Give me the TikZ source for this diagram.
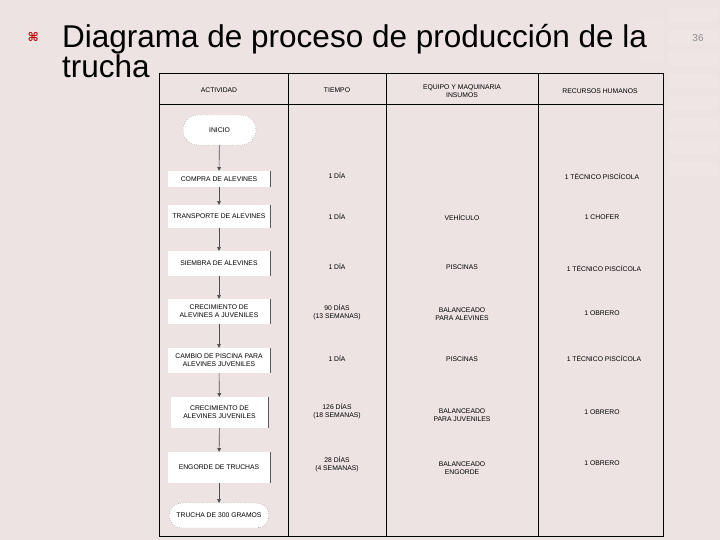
\documentclass[tikz,border=0pt]{standalone}
\usepackage{fontspec}
\setmainfont{Liberation Sans}
\newfontfamily\symfont{DejaVu Sans}
\usetikzlibrary{arrows.meta, shapes.misc}
\definecolor{slidebg}{HTML}{EDE3E3}
\definecolor{bulletred}{HTML}{C00000}

\begin{document}
\begin{tikzpicture}[x=1pt, y=-1pt, >={Triangle[length=1.3mm, width=1.3mm]},
  act/.style={fill=white, minimum width=103pt, inner sep=1pt, align=center, font=\fontsize{6.8}{7.8}\selectfont},
  term/.style={act, rounded rectangle, draw=black!70, dotted},
  cell/.style={align=center, font=\fontsize{6.8}{8}\selectfont, inner sep=0pt},
  rule/.style={draw=black, line width=0.9pt},
  shade/.style={draw=black!65, line width=1pt},
  flow/.style={->, draw=black!70, line width=0.6pt}]
\useasboundingbox (0,0) rectangle (720,540);
\fill[slidebg] (0,0) rectangle (720,540);
% faint pattern, top right
\foreach \yy in {8,30,52,74,96,118,140,162}
  \fill[white, opacity=0.08] (668,\yy) rectangle (718,\yy+14);
\fill[white, opacity=0.06] (640,20) rectangle (664,60);

% title
\node[anchor=base west, font=\symfont\bfseries\fontsize{12}{12}\selectfont, text=bulletred] (bul) at (24,42) {⌘};
\node[anchor=base west, align=left, font=\fontsize{31.5}{30}\selectfont, inner sep=0pt] (title) at (62,78)
  {Diagrama de proceso de producción de la\\trucha};
\node[font=\fontsize{10}{10}\selectfont, text=black!45] (num) at (698,38) {36};

% table
\draw[rule] (159,73) rectangle (663,536);
\draw[rule] (159,104) -- (663,104);
\draw[rule] (288,73) -- (288,536);
\draw[rule] (386,73) -- (386,536);
\draw[rule] (538,73) -- (538,536);

\node[cell] (hact) at (219,90) {ACTIVIDAD};
\node[cell] (htie) at (337,90) {TIEMPO};
\node[cell] (hequ) at (462,91) {EQUIPO Y MAQUINARIA\\INSUMOS};
\node[cell] (hrec) at (600,91) {RECURSOS HUMANOS};

% activities
\node[term, minimum width=75pt, minimum height=30pt] (inicio) at (219.5,130) {INICIO};
\node[act, minimum height=16pt] (compra) at (219,179) {COMPRA DE ALEVINES};
\node[act, minimum height=23pt] (transp) at (219,216.5) {TRANSPORTE DE ALEVINES};
\node[act, minimum height=25pt] (siemb) at (219,263.5) {SIEMBRA DE ALEVINES};
\node[act, minimum height=25pt] (crecA) at (219,311.5) {CRECIMIENTO DE\\ALEVINES A JUVENILES};
\node[act, minimum height=25pt] (cambio) at (219,360.5) {CAMBIO DE PISCINA PARA\\ALEVINES JUVENILES};
\node[act, minimum height=31pt, minimum width=97pt] (crecB) at (219.5,412.5) {CRECIMIENTO DE\\ALEVINES JUVENILES};
\node[act, minimum height=31pt] (engor) at (219,467.5) {ENGORDE DE TRUCHAS};
\node[term, minimum width=102pt, minimum height=25pt] (trucha) at (219,515.5) {TRUCHA DE 300 GRAMOS};

\foreach \b in {compra, transp, siemb, crecA, cambio, crecB, engor}
  \draw[shade] (\b.north east) -- (\b.south east);

\draw[flow] (inicio) -- (compra);
\draw[flow] (compra) -- (transp);
\draw[flow] (transp) -- (siemb);
\draw[flow] (siemb) -- (crecA);
\draw[flow] (crecA) -- (cambio);
\draw[flow] (cambio) -- (crecB);
\draw[flow] (crecB) -- (engor);
\draw[flow] (engor) -- (trucha);

% time
\node[cell] (t1) at (337,176) {1 DÍA};
\node[cell] (t2) at (337,217) {1 DÍA};
\node[cell] (t3) at (337,267) {1 DÍA};
\node[cell] (t4) at (337,312) {90 DÍAS\\(13 SEMANAS)};
\node[cell] (t5) at (337,359) {1 DÍA};
\node[cell] (t6) at (337,411) {126 DÍAS\\(18 SEMANAS)};
\node[cell] (t7) at (337,464) {28 DÍAS\\(4 SEMANAS)};

% equipment
\node[cell] (e2) at (462,218) {VEHÍCULO};
\node[cell] (e3) at (462,267) {PISCINAS};
\node[cell] (e4) at (462,314) {BALANCEADO\\PARA ALEVINES};
\node[cell] (e5) at (462,359) {PISCINAS};
\node[cell] (e6) at (462,415) {BALANCEADO\\PARA JUVENILES};
\node[cell] (e7) at (462,468) {BALANCEADO\\ENGORDE};

% human resources
\node[cell] (r1) at (602,177) {1 TÉCNICO PISCÍCOLA};
\node[cell] (r2) at (602,217) {1 CHOFER};
\node[cell] (r3) at (604,269) {1 TÉCNICO PISCÍCOLA};
\node[cell] (r4) at (602,313) {1 OBRERO};
\node[cell] (r5) at (604,359) {1 TÉCNICO PISCÍCOLA};
\node[cell] (r6) at (602,412) {1 OBRERO};
\node[cell] (r7) at (602,463) {1 OBRERO};
\end{tikzpicture}
\end{document}
